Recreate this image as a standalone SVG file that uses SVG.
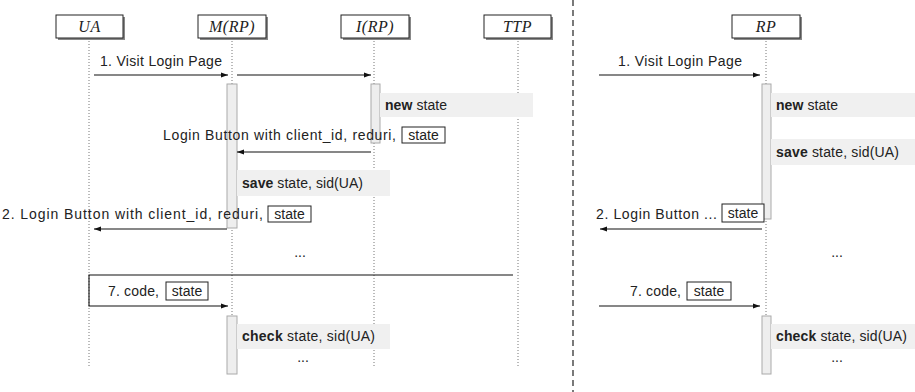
<svg xmlns="http://www.w3.org/2000/svg" width="915" height="392" viewBox="0 0 915 392">
<style>
text{font-family:"Liberation Sans",Arial,sans-serif;font-size:14px;fill:#222}
.hd{font-family:"Liberation Serif","Times New Roman",serif;font-style:italic;font-size:16px;text-anchor:middle;letter-spacing:0.5px}
.hbox{fill:#fff;stroke:#222;stroke-width:1}
.shadow{fill:#888}
.life{stroke:#777;stroke-width:1;stroke-dasharray:1 2;fill:none}
.act{fill:#eeeeee;stroke:#aaaaaa;stroke-width:1}
.note{fill:#f0f0f0}
.msg{stroke:#111;stroke-width:1.1;fill:none}
.sbox{fill:#fff;stroke:#222;stroke-width:1}
.b{font-weight:bold}
</style>
<defs>
<marker id="ah" markerWidth="8" markerHeight="6" refX="7" refY="3" orient="auto" markerUnits="userSpaceOnUse">
<path d="M0,0.5 L7,3 L0,5.5 z" fill="#111"/>
</marker>
</defs>
<rect width="915" height="392" fill="#fff"/>
<line x1="573" y1="0" x2="573" y2="392" stroke="#222" stroke-width="1.2" stroke-dasharray="6 4"/>
<g id="lifelines">
<line class="life" x1="89" y1="38" x2="89" y2="366"/>
<line class="life" x1="232" y1="38" x2="232" y2="366"/>
<line class="life" x1="374" y1="38" x2="374" y2="366"/>
<line class="life" x1="518" y1="38" x2="518" y2="366"/>
<line class="life" x1="766" y1="38" x2="766" y2="366"/>
</g>
<g id="UA"><rect class="shadow" x="58" y="17" width="67" height="23"/><rect class="hbox" x="56" y="15" width="67" height="23"/><text class="hd" x="89.5" y="32">UA</text></g>
<g id="M"><rect class="shadow" x="200" y="17" width="68" height="23"/><rect class="hbox" x="198" y="15" width="68" height="23"/><text class="hd" x="232" y="32">M(RP)</text></g>
<g id="I"><rect class="shadow" x="343" y="17" width="68" height="23"/><rect class="hbox" x="341" y="15" width="68" height="23"/><text class="hd" x="375" y="32">I(RP)</text></g>
<g id="TTP"><rect class="shadow" x="486" y="17" width="67" height="23"/><rect class="hbox" x="484" y="15" width="67" height="23"/><text class="hd" x="517.5" y="32">TTP</text></g>
<g id="RP"><rect class="shadow" x="734" y="17" width="68" height="23"/><rect class="hbox" x="732" y="15" width="68" height="23"/><text class="hd" x="766" y="32">RP</text></g>
<g id="activations">
<rect class="act" x="227" y="84" width="10" height="144"/>
<rect class="act" x="371" y="84" width="9" height="59"/>
<rect class="act" x="227" y="316" width="10" height="58"/>
<rect class="act" x="762" y="84" width="9" height="135"/>
<rect class="act" x="762" y="316" width="9" height="58"/>
</g>
<g id="notes">
<rect class="note" x="380" y="93" width="153" height="24"/>
<text x="385" y="110" textLength="62" lengthAdjust="spacing"><tspan class="b">new</tspan> state</text>
<rect class="note" x="237" y="170" width="153" height="26"/>
<text x="242" y="188" textLength="121" lengthAdjust="spacing"><tspan class="b">save</tspan> state, sid(UA)</text>
<rect class="note" x="237" y="324" width="153" height="25"/>
<text x="242" y="341" textLength="133" lengthAdjust="spacing"><tspan class="b">check</tspan> state, sid(UA)</text>
<text x="300" y="257" text-anchor="middle">...</text>
<text x="303" y="362" text-anchor="middle">...</text>
<rect class="note" x="771" y="93" width="144" height="24"/>
<text x="776" y="110" textLength="62" lengthAdjust="spacing"><tspan class="b">new</tspan> state</text>
<rect class="note" x="771" y="139" width="144" height="26"/>
<text x="776" y="157" textLength="123" lengthAdjust="spacing"><tspan class="b">save</tspan> state, sid(UA)</text>
<rect class="note" x="771" y="324" width="144" height="25"/>
<text x="776" y="341" textLength="131" lengthAdjust="spacing"><tspan class="b">check</tspan> state, sid(UA)</text>
<text x="837" y="257" text-anchor="middle">...</text>
<text x="837" y="362" text-anchor="middle">...</text>
</g>
<g id="connectors">
<line class="msg" x1="94" y1="75" x2="228" y2="75" marker-end="url(#ah)"/>
<line class="msg" x1="237" y1="75" x2="371" y2="75" marker-end="url(#ah)"/>
<line class="msg" x1="371" y1="152" x2="237" y2="152" marker-end="url(#ah)"/>
<line class="msg" x1="227" y1="229" x2="94" y2="229" marker-end="url(#ah)"/>
<path class="msg" d="M513,275 H89 V306 H228" marker-end="url(#ah)"/>
<line class="msg" x1="599" y1="75" x2="760" y2="75" marker-end="url(#ah)"/>
<line class="msg" x1="762" y1="229" x2="600" y2="229" marker-end="url(#ah)"/>
<line class="msg" x1="599" y1="306" x2="760" y2="306" marker-end="url(#ah)"/>
</g>
<g id="labels">
<text x="100" y="66" textLength="122" lengthAdjust="spacing">1. Visit Login Page</text>
<text x="163" y="140" textLength="233" lengthAdjust="spacing">Login Button with client_id, reduri,</text>
<rect class="sbox" x="402" y="127" width="43" height="16"/>
<text x="423.5" y="140" text-anchor="middle">state</text>
<text x="2" y="219" textLength="261" lengthAdjust="spacing">2. Login Button with client_id, reduri,</text>
<rect class="sbox" x="268" y="206" width="43" height="16"/>
<text x="289.5" y="219" text-anchor="middle">state</text>
<text x="108" y="296" textLength="51" lengthAdjust="spacing">7. code,</text>
<rect class="sbox" x="166" y="282" width="42" height="18"/>
<text x="187" y="296" text-anchor="middle">state</text>
<text x="618" y="66" textLength="124" lengthAdjust="spacing">1. Visit Login Page</text>
<text x="596" y="219" textLength="121" lengthAdjust="spacing">2. Login Button ...</text>
<rect class="sbox" x="722" y="204" width="42" height="18"/>
<text x="743" y="218" text-anchor="middle">state</text>
<text x="630" y="296" textLength="51" lengthAdjust="spacing">7. code,</text>
<rect class="sbox" x="687" y="282" width="44" height="18"/>
<text x="709" y="296" text-anchor="middle">state</text>
</g>
</svg>
